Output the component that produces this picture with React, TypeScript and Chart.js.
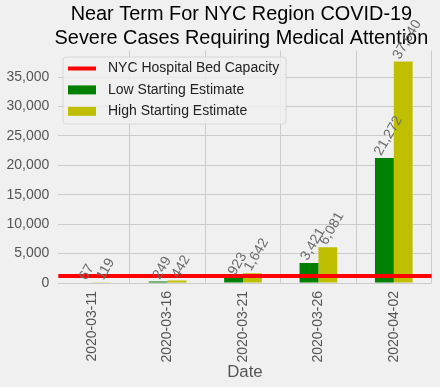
import React, { useEffect, useRef } from "react";
import { Chart, registerables } from "chart.js";

Chart.register(...registerables);

const dates = ["2020-03-11", "2020-03-16", "2020-03-21", "2020-03-26", "2020-04-02"];
const lowEstimate = [67, 249, 923, 3421, 21272];
const highEstimate = [119, 442, 1642, 6081, 37640];
const bedCapacity = 1200;
const titleLines = ["Near Term For NYC Region COVID-19", "Severe Cases Requiring Medical Attention"];
const yTicks = [0, 5000, 10000, 15000, 20000, 25000, 30000, 35000];

const FONT = "'Liberation Sans', Arial, sans-serif";

// Draws the capacity line across the whole plot width at the y-scale value of the line dataset.
const hLinePlugin = {
  id: "hLine",
  afterDatasetsDraw(chart: any) {
    const ctx = chart.ctx;
    const { left, right } = chart.chartArea;
    chart.data.datasets.forEach((ds: any) => {
      if (ds.type !== "line") return;
      const y = chart.scales.y.getPixelForValue(ds.hValue);
      ctx.save();
      ctx.strokeStyle = ds.borderColor;
      ctx.lineWidth = ds.borderWidth;
      ctx.beginPath();
      ctx.moveTo(left, y);
      ctx.lineTo(right, y);
      ctx.stroke();
      ctx.restore();
    });
  },
};

// Shift the title block slightly so it is centred like the reference.
const titleShiftPlugin = {
  id: "titleShift",
  afterLayout(chart: any) {
    const tb = chart.titleBlock;
    if (tb) {
      tb.left = chart.chartArea.left - 7;
      tb.right = chart.chartArea.right;
    }
  },
};

const barLabelPlugin = {
  id: "barLabels",
  afterDatasetsDraw(chart: any) {
    const ctx = chart.ctx;
    const size = 14;
    const ang = (60 * Math.PI) / 180;
    ctx.save();
    ctx.font = `${size}px ${FONT}`;
    ctx.fillStyle = "#6b6b6b";
    ctx.textAlign = "center";
    ctx.textBaseline = "middle";
    chart.data.datasets.forEach((ds: any, i: number) => {
      if (ds.type !== "bar") return;
      const meta = chart.getDatasetMeta(i);
      meta.data.forEach((el: any, j: number) => {
        const txt = Number(ds.data[j].y).toLocaleString("en-US");
        const w = ctx.measureText(txt).width;
        const h = size * 1.0;
        const H = w * Math.sin(ang) + h * Math.cos(ang);
        const cx = el.x + 4;
        const cy = el.y - H / 2;
        ctx.save();
        ctx.translate(cx, cy);
        ctx.rotate(-ang);
        ctx.fillText(txt, 0, 0);
        ctx.restore();
      });
    });
    ctx.restore();
  },
};

const legendPlugin = {
  id: "boxLegend",
  afterDraw(chart: any) {
    const ctx = chart.ctx;
    const x0 = 63, y0 = 57, bw = 223, bh = 67;
    ctx.save();
    ctx.beginPath();
    const r = 3;
    ctx.moveTo(x0 + r, y0);
    ctx.arcTo(x0 + bw, y0, x0 + bw, y0 + bh, r);
    ctx.arcTo(x0 + bw, y0 + bh, x0, y0 + bh, r);
    ctx.arcTo(x0, y0 + bh, x0, y0, r);
    ctx.arcTo(x0, y0, x0 + bw, y0, r);
    ctx.closePath();
    ctx.fillStyle = "rgba(240,240,240,0.85)";
    ctx.fill();
    ctx.strokeStyle = "#d8d8d8";
    ctx.lineWidth = 1;
    ctx.stroke();
    ctx.font = `14px ${FONT}`;
    ctx.textBaseline = "middle";
    ctx.textAlign = "left";
    const order = [2, 0, 1];
    order.forEach((di, row) => {
      const ds = chart.data.datasets[di];
      const cy = 68.5 + row * 21.4;
      if (ds.type === "line") {
        ctx.strokeStyle = ds.borderColor;
        ctx.lineWidth = 4;
        ctx.beginPath();
        ctx.moveTo(68, cy);
        ctx.lineTo(96, cy);
        ctx.stroke();
      } else {
        ctx.fillStyle = ds.backgroundColor;
        ctx.fillRect(68, cy - 4.5, 28, 9);
      }
      ctx.fillStyle = "#222";
      ctx.fillText(ds.label, 108, cy);
    });
    ctx.restore();
  },
};

export default function App() {
  const ref = useRef<HTMLCanvasElement>(null);
  useEffect(() => {
    const chart = new Chart(ref.current as HTMLCanvasElement, {
      type: "bar",
      data: {
        datasets: [
          {
            type: "bar",
            label: "Low Starting Estimate",
            data: lowEstimate.map((v, i) => ({ x: i, y: v })),
            backgroundColor: "#008000",
            categoryPercentage: 0.5,
            barPercentage: 1.0,
            stack: "low",
          } as any,
          {
            type: "bar",
            label: "High Starting Estimate",
            data: highEstimate.map((v, i) => ({ x: i, y: v })),
            backgroundColor: "#bfbf00",
            categoryPercentage: 0.5,
            barPercentage: 1.0,
            stack: "high",
          } as any,
          {
            type: "line",
            label: "NYC Hospital Bed Capacity",
            data: [],
            hValue: bedCapacity,
            borderColor: "#ff0000",
            backgroundColor: "#ff0000",
            borderWidth: 4,
            pointRadius: 0,
          } as any,
        ],
      },
      options: {
        animation: false,
        responsive: false,
        devicePixelRatio: 1,
        layout: { padding: { left: 0, right: 8.5, top: 0, bottom: 0 } },
        plugins: {
          legend: { display: false },
          tooltip: { enabled: false },
          title: {
            display: true,
            fullSize: false,
            text: titleLines,
            color: "#000",
            font: { family: FONT, size: 19.9, lineHeight: 1.22, weight: "normal" },
            padding: { top: 2, bottom: 0 },
          },
        },
        scales: {
          x: {
            type: "linear",
            min: -0.45,
            max: 4.5,
            offset: false,
            grid: { color: "#cbcbcb", lineWidth: 1, drawTicks: false },
            border: { display: false },
            afterBuildTicks(scale: any) {
              scale.ticks = dates.map((_, i) => ({ value: i }));
            },
            ticks: {
              color: "#555",
              font: { family: FONT, size: 14 },
              minRotation: 90,
              maxRotation: 90,
              padding: 8,
              autoSkip: false,
              callback: (v: any) => dates[Math.round(Number(v))] ?? "",
            },
            title: {
              display: true,
              text: "Date",
              color: "#555",
              font: { family: FONT, size: 16.8, lineHeight: 1.2 },
              padding: { top: 0, bottom: 5 },
            },
            afterFit(scale: any) {
              scale.height = 104;
            },
          },
          y: {
            type: "linear",
            min: 0,
            max: Math.max(...highEstimate) * 1.05,
            grid: { color: "#cbcbcb", lineWidth: 1, drawTicks: false },
            border: { display: false },
            afterBuildTicks(scale: any) {
              scale.ticks = yTicks.map((v) => ({ value: v }));
            },
            ticks: {
              color: "#555",
              font: { family: FONT, size: 14 },
              padding: 9,
              callback: (v: any) => Number(v).toLocaleString("en-US"),
            },
            afterFit(scale: any) {
              scale.width = 58.3;
            },
          },
        },
      } as any,
      plugins: [titleShiftPlugin, hLinePlugin, barLabelPlugin, legendPlugin],
    });
    return () => chart.destroy();
  }, []);
  return (
    <div style={{ position: "absolute", left: 0, top: 0, width: 440, height: 387, background: "#f0f0f0" }}>
      <canvas ref={ref} width={440} height={387} />
    </div>
  );
}
